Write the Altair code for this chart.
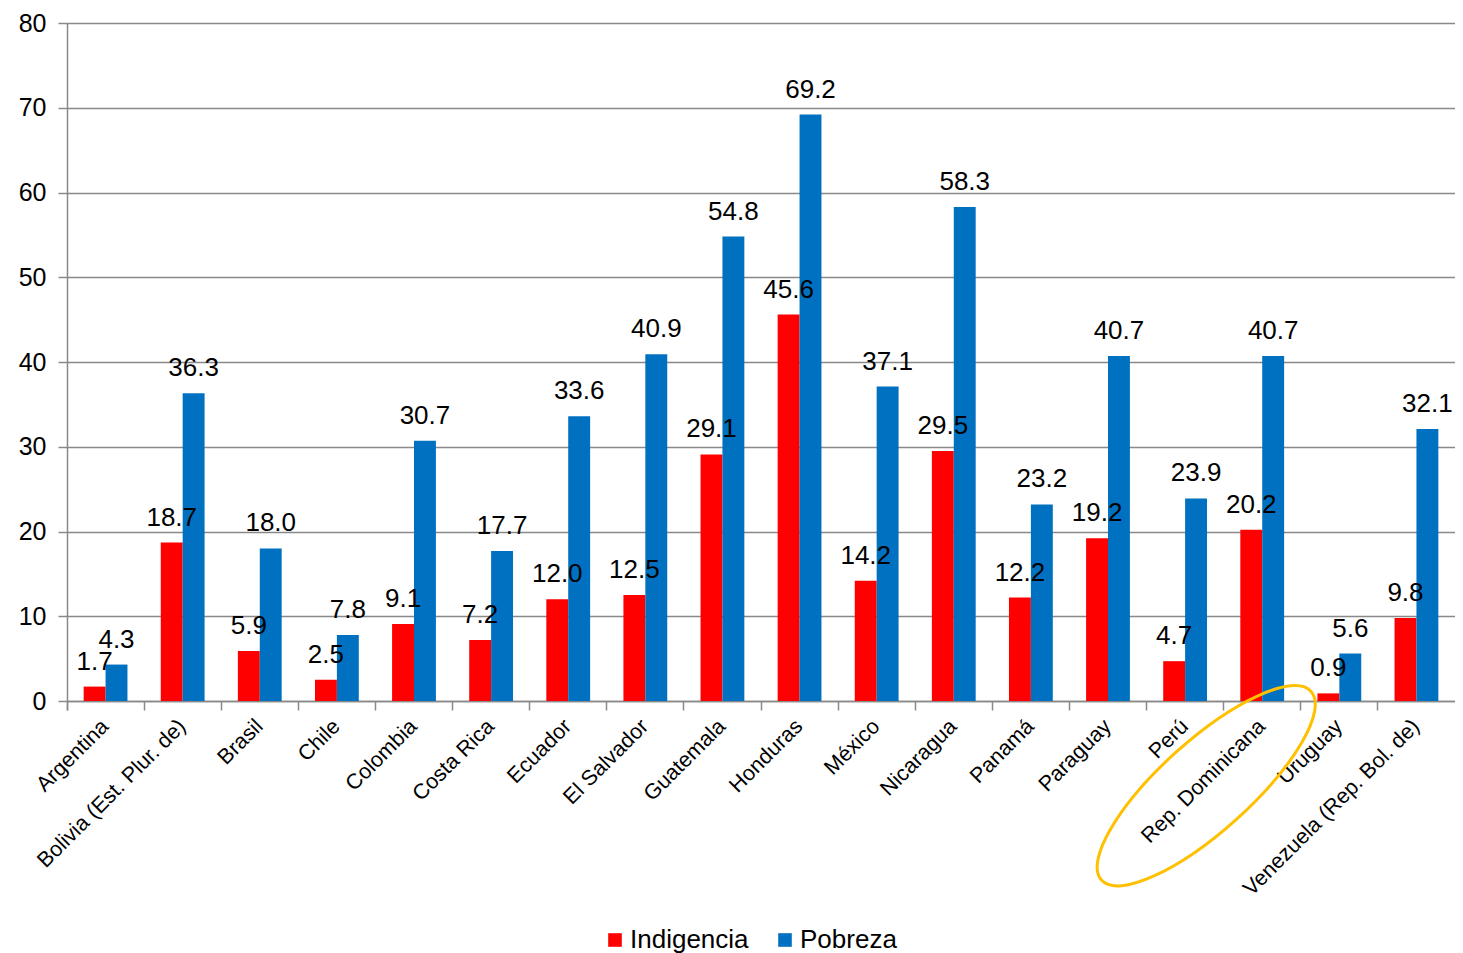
import math
import altair as alt
import pandas as pd

countries = ["Argentina", "Bolivia (Est. Plur. de)", "Brasil", "Chile", "Colombia",
             "Costa Rica", "Ecuador", "El Salvador", "Guatemala", "Honduras", "México",
             "Nicaragua", "Panamá", "Paraguay", "Perú", "Rep. Dominicana", "Uruguay",
             "Venezuela (Rep. Bol. de)"]
indigencia = [1.7, 18.7, 5.9, 2.5, 9.1, 7.2, 12.0, 12.5, 29.1, 45.6, 14.2, 29.5, 12.2,
              19.2, 4.7, 20.2, 0.9, 9.8]
pobreza = [4.3, 36.3, 18.0, 7.8, 30.7, 17.7, 33.6, 40.9, 54.8, 69.2, 37.1, 58.3, 23.2,
           40.7, 23.9, 40.7, 5.6, 32.1]
series = ["Indigencia", "Pobreza"]
colors = ["#FF0000", "#0070C0"]
y_ticks = [0, 10, 20, 30, 40, 50, 60, 70, 80]

# highlighted category (annotation ellipse around its axis label)
highlight_country = ["Rep. Dominicana"]
highlight_level = [-10]

rows = []
for c, i, p in zip(countries, indigencia, pobreza):
    rows.append({"pais": c, "serie": series[0], "valor": i})
    rows.append({"pais": c, "serie": series[1], "valor": p})
df = pd.DataFrame(rows)
hl = pd.DataFrame({"pais": highlight_country, "valor": highlight_level})

GRAY = "#898989"
FONT = "Liberation Sans"


def ellipse_shape(ratio, rot_deg, shift):
    """Unit ellipse outline as bezier path, rotated (screen degrees) and shifted."""
    k = 0.5523
    b = ratio
    pts = [(-1, 0),
           (-1, -k * b), (-k, -b), (0, -b),
           (k, -b), (1, -k * b), (1, 0),
           (1, k * b), (k, b), (0, b),
           (-k, b), (-1, k * b), (-1, 0)]
    r = math.radians(rot_deg)
    cs, sn = math.cos(r), math.sin(r)
    out = [((px * cs - py * sn) + shift, (px * sn + py * cs)) for px, py in pts]
    f = lambda p: f"{p[0]:.4f} {p[1]:.4f}"
    d = "M " + f(out[0])
    for j in range(1, 13, 3):
        d += " C " + f(out[j]) + " " + f(out[j + 1]) + " " + f(out[j + 2])
    return d + " Z"


x_enc = alt.X(
    "pais:N", sort=countries, title=None,
    scale=alt.Scale(paddingInner=0, paddingOuter=0),
    axis=alt.Axis(labelAngle=-45, labelAlign="right", labelBaseline="middle",
                  labelFontSize=21.5, labelColor="black", labelFont=FONT,
                  labelLimit=500, bandPosition=0, tickExtra=True, tickSize=9,
                  tickColor=GRAY, tickWidth=1.5, domainColor=GRAY, domainWidth=1.5,
                  labelPadding=13, grid=False, labelOverlap=False),
)
y_enc = alt.Y(
    "valor:Q", title=None,
    scale=alt.Scale(domain=[0, 80], nice=False),
    axis=alt.Axis(values=y_ticks, labelFontSize=25, labelColor="black", labelFont=FONT,
                  tickSize=9, tickColor=GRAY, tickWidth=1.5, gridColor=GRAY,
                  gridWidth=1.5, domainColor=GRAY, domainWidth=1.5, labelPadding=12),
)
xoff = alt.XOffset("serie:N", sort=series,
                   scale=alt.Scale(paddingOuter=0.76, paddingInner=0))

bars = alt.Chart(df).mark_bar().encode(
    x=x_enc, y=y_enc, xOffset=xoff,
    color=alt.Color("serie:N", sort=series,
                    scale=alt.Scale(domain=series, range=colors),
                    legend=alt.Legend(orient="none", legendX=535, legendY=904,
                                      direction="horizontal", title=None,
                                      symbolType="square", symbolSize=185,
                                      symbolStrokeWidth=0, labelFontSize=26,
                                      labelFont=FONT, labelColor="black",
                                      columnPadding=23, labelOffset=2, padding=0)),
)

labels = alt.Chart(df).mark_text(baseline="alphabetic", dy=-17, fontSize=26,
                                 font=FONT, color="black").encode(
    x=alt.X("pais:N", sort=countries), y="valor:Q", xOffset=xoff,
    text=alt.Text("valor:Q", format=".1f"),
)

ellipse = alt.Chart(hl).mark_point(shape=ellipse_shape(0.32, -42, -56 / 141),
                                   size=79524, filled=False, stroke="#FFC000",
                                   strokeWidth=3, opacity=1).encode(
    x=alt.X("pais:N", sort=countries), y="valor:Q",
)

chart = alt.layer(bars, labels, ellipse).properties(
    width=1388, height=678,
    padding={"left": 10, "top": 3, "right": 0, "bottom": 0},
).configure_view(stroke=None).configure(font=FONT)

chart.save("out.html", embed_options={"renderer": "svg", "actions": False})
